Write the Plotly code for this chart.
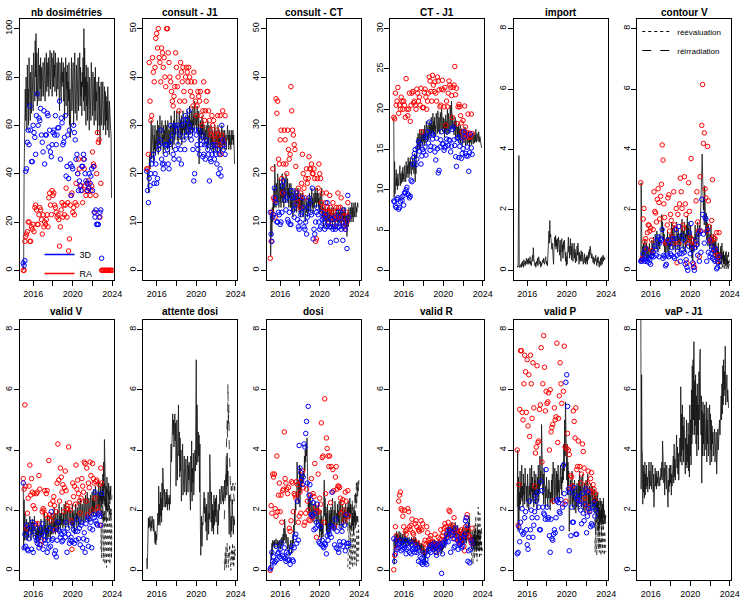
import pandas as pd
import plotly.graph_objects as go

FONT = "Liberation Sans, Arial, sans-serif"
TITLES = ["nb dosimétries", "consult - J1", "consult - CT", "CT - J1", "import", "contour V",
          "valid V", "attente dosi", "dosi", "valid R", "valid P", "vaP - J1"]
X_TICKS = ["2016-01-01", "2018-01-01", "2020-01-01", "2022-01-01", "2024-01-01"]
X_TICKTEXT = ["2016", "", "2020", "", "2024"]

# ---------------- nb dosimetries ----------------
NB_LINE = [0, 2, 40, 55, 70, 75, 62, 80, 72, 58, 85, 68, 75, 60, 88, 70, 78, 62, 82, 70, 65, 85, 72, 78,
           66, 90, 75, 85, 70, 95, 80, 98, 72, 90, 68, 88, 76, 92, 70, 85, 80, 75, 88, 70, 84, 72, 80, 76,
           86, 72, 82, 75, 88, 70, 84, 78, 90, 74, 86, 80, 76, 88, 72, 84, 80, 91, 75, 86, 78, 90, 72, 82,
           88, 76, 91, 80, 85, 74, 90, 78, 84, 72, 86, 80, 75, 88, 70, 82, 66, 86, 74, 80, 70, 88, 76, 82,
           78, 86, 70, 84, 62, 80, 72, 88, 68, 82, 75, 85, 64, 78, 70, 86, 60, 75, 55, 72, 80, 88, 66, 82,
           74, 86, 60, 80, 70, 90, 65, 78, 72, 85, 62, 76, 70, 88, 66, 80, 74, 90, 68, 84, 72, 78, 64, 82,
           76, 88, 70, 100, 66, 92, 72, 80, 60, 85, 68, 78, 62, 84, 70, 76, 58, 80, 66, 74, 62, 86, 70, 78,
           64, 82, 70, 76, 60, 80, 66, 84, 62, 74, 70, 78, 56, 72, 64, 80, 60, 76, 52, 72, 66, 78, 60, 74,
           64, 78, 58, 72, 66, 76, 60, 74, 56, 72, 62, 70, 58, 76, 60, 72, 55, 70, 62, 66, 58, 56, 30]
NB_BLUE = [3, 2, 4, 41, 42, 53, 58, 52, 68, 58, 45, 45,
           60, 57, 55, 48, 64, 73, 60, 63, 62, 67, 56, 53,
           49, 66, 44, 56, 56, 65, 64, 51, 58, 49, 47, 52,
           57, 58, 56, 64, 52, 56, 59, 59, 70, 46, 63, 61,
           52, 53, 55, 64, 39, 43, 56, 38, 58, 44, 31, 43,
           42, 60, 57, 54, 46, 48, 40, 33, 37, 35, 33, 43,
           43, 48, 46, 40, 37, 36, 33, 34, 40, 36, 39, 42,
           33, 43, 24, 22, 25, 19, 19, 19, 22, 24, 25, 5]
NB_RED = [0, 0, 12, 14, 15, 16, 20, 20, 12, 12, 18, 17,
          19, 16, 26, 27, 25, 19, 19, 23, 26, 25, 21, 15,
          23, 18, 20, 19, 21, 23, 18, 30, 32, 27, 23, 33,
          31, 32, 27, 26, 24, 22, 23, 21, 10, 18, 25, 28,
          22, 27, 23, 27, 34, 22, 28, 8, 13, 27, 31, 32,
          24, 26, 23, 28, 36, 27, 40, 46, 42, 35, 35, 33,
          28, 46, 42, 35, 31, 33, 36, 37, 34, 31, 33, 35,
          49, 44, 43, 24, 31, 40, 57, 53, 54, 22, 36, 0,
          0, 0, 0, 0, 0, 0, 0, 0, 0, 0, 0, 0, 0]

# ---------------- consult - J1 ----------------
CJ1_LINE = [20.5, 21, 19, 20, 17, 16, 22, 24, 21, 29, 25, 31, 23, 27, 24, 30, 26, 22, 28, 25, 30, 24, 27, 26,
            29, 25, 31, 27, 24, 30, 28, 26, 32, 27, 25, 29, 27, 31, 26, 28, 24, 30, 27, 29, 25, 31, 28, 26,
            30, 27, 25, 31, 28, 26, 29, 24, 28, 30, 26, 32, 27, 29, 25, 30, 28, 31, 26, 33, 27, 30, 28, 32,
            29, 33, 27, 30, 26, 31, 28, 33, 29, 27, 31, 28, 32, 26, 30, 28, 33, 29, 31, 27, 30, 28, 32, 29,
            31, 28, 33, 29, 30, 27, 32, 29, 34, 28, 31, 30, 33, 29, 31, 28, 34, 30, 32, 29, 35, 31, 33, 30,
            32, 29, 34, 30, 31, 28, 33, 22, 29, 27, 31, 28, 30, 27, 32, 28, 31, 29, 27, 30, 28, 26, 29, 27,
            30, 27, 29, 25, 31, 28, 26, 30, 27, 29, 25, 28, 30, 26, 28, 25, 29, 27, 24, 28, 26, 30, 25, 27,
            29, 26, 28, 24, 27, 30, 26, 28, 25, 29, 27, 24, 28, 26, 30, 25, 27, 29, 26, 28, 25, 29, 27, 26,
            28, 25, 29, 26, 30, 27, 28, 25, 29, 26, 28, 27, 25, 29, 26, 28, 27, 29, 26, 28, 25, 22]
CJ1_RED = [21, 21, 24, 43, 35, 31, 32, 44, 41, 39, 42, 48,
           49, 46, 50, 44, 43, 39, 46, 45, 42, 44, 40, 38,
           50, 50, 45, 43, 40, 39, 37, 35, 34, 36, 38, 45,
           42, 38, 40, 33, 35, 43, 41, 39, 42, 37, 35, 40,
           42, 41, 39, 42, 40, 37, 39, 36, 34, 41, 39, 35,
           32, 34, 37, 36, 35, 37, 32, 30, 33, 39, 31, 33,
           35, 37, 37, 33, 31, 29, 28, 32, 30, 31, 28, 27,
           26, 29, 32, 28, 26, 32, 24, 28, 33, 27, 26, 32]
CJ1_BLUE = [20.5, 16.5, 14, 19, 17.5, 20, 22, 23, 24, 18, 20, 22,
            18, 19, 25, 26, 27, 29, 23, 22, 21, 22, 26, 24,
            26, 25, 22, 21, 26, 30, 27, 28, 24, 23, 30, 25,
            29, 30, 26, 23, 28, 25, 22, 30, 31, 27, 25, 32,
            28, 31, 29, 33, 30, 28, 27, 29, 25, 18.5, 20, 29,
            28, 26, 25, 29, 24, 27, 26, 28, 23.5, 24, 26, 23,
            27, 26, 25, 24, 18.5, 23, 22.5, 24, 26, 25, 23, 26,
            24, 22, 25, 20, 24, 21, 19.5, 30, 27, 25, 26, 24]

# ---------------- consult - CT ----------------
CCT_LINE = [12, 3, 8, 12, 7, 13, 10, 14, 12, 17, 13, 22, 15, 19, 13, 18, 16, 14, 20, 15, 17, 13, 19, 16,
            14, 18, 13, 17, 15, 20, 14, 18, 16, 13, 19, 15, 17, 14, 20, 16, 18, 15, 19, 14, 17, 13, 18, 15,
            16, 13, 18, 15, 12, 17, 14, 11, 16, 13, 15, 12, 17, 14, 13, 16, 12, 15, 14, 17, 13, 16, 12, 15,
            14, 11, 16, 13, 15, 12, 14, 16, 11, 13, 15, 12, 14, 10, 13, 15, 12, 14, 11, 13, 15, 12, 14, 16,
            13, 15, 12, 16, 14, 17, 13, 15, 12, 14, 16, 13, 15, 17, 14, 16, 13, 15, 17, 14, 16, 13, 15, 12,
            14, 16, 12, 15, 13, 17, 11, 14, 12, 9, 13, 11, 12, 10, 13, 11, 9, 12, 10, 13, 11, 12, 10, 13,
            11, 9, 12, 10, 13, 11, 12, 9, 11, 13, 10, 12, 11, 9, 12, 10, 13, 11, 10, 12, 9, 11, 13, 10,
            12, 10, 11, 13, 9, 12, 10, 11, 13, 10, 12, 9, 11, 13, 10, 12, 9, 11, 7, 10, 12, 9, 11, 13,
            10, 12, 11, 13, 10, 12, 14, 11, 13, 10, 12, 14, 11, 13, 12, 14, 11, 13, 12, 13, 14, 13]
CCT_RED = [2.5, 6, 12, 21, 15, 14.5, 11, 35.5, 32.5, 35, 23, 22,
           27, 29, 19, 16, 22, 29, 27, 22, 20, 29, 25, 23,
           24, 38, 33, 29, 28, 26, 25, 21.5, 16, 14, 17, 15,
           13, 16, 18, 24, 20, 17, 15, 19, 21, 18, 19, 23.5,
           21, 21, 22, 20, 20, 21, 19, 6, 6.5, 19, 17, 22,
           20, 19, 14, 16, 13, 12, 11, 14, 16, 13, 12, 10,
           15.5, 13, 12, 11, 14, 12, 10.5, 9, 13, 11, 16, 13,
           11, 13, 15, 12, 10, 9, 11, 8.5, 12, 10, 14, 11]
CCT_BLUE = [12, 7.5, 6, 11, 11.5, 17, 15, 14, 10, 10, 12, 11.5,
            9.5, 10, 12, 17.5, 18.5, 16, 14.5, 12.5, 15, 10.5, 10, 12,
            9.5, 9.5, 16.5, 15, 12.5, 11, 13.5, 15, 16, 10.5, 9, 8.5,
            10, 11.5, 12, 15, 13, 9, 8.5, 10, 7.5, 11, 13, 15,
            14, 12, 11.5, 17, 6.5, 8.5, 7.5, 10, 12, 13, 11.5, 10,
            8.5, 9, 12, 10.5, 11, 10, 8.5, 11.5, 9, 14, 10, 11,
            9, 5.8, 9, 10.5, 8.5, 9, 11, 8.5, 6.2, 10, 9, 12,
            9, 11, 8.5, 10, 6.2, 12.5, 9, 8.5, 10, 4.5, 15.5, 11]

# ---------------- CT - J1 ----------------
CTJ1_LINE = [19, 9, 13.5, 9.5, 11, 10, 12.5, 10.5, 11.5, 10, 12, 11, 10.5, 12.5, 11, 13, 10.5, 12, 11.5, 10.8, 12.3, 11, 12.8, 11.3,
             12, 11, 13, 11.5, 12.5, 11, 13.5, 12, 11.5, 13, 12, 14, 12.5, 11.5, 13.5, 12, 14, 12.5, 13, 11.8, 13.5, 12.5, 14, 12.8,
             13.5, 12, 14.5, 12.8, 11, 13.5, 12, 15, 14, 16.5, 15, 17, 15.5, 16.5, 15, 17.5, 16, 15, 17, 15.8, 17.5, 16.2, 15.5, 17,
             16, 17.5, 15.5, 18, 16.5, 17, 15.8, 18.5, 16.5, 17.8, 16, 18, 17, 16.2, 18.5, 17, 16.5, 18.2, 17, 19, 16.8, 18, 17.3, 19.5,
             17, 18.5, 16.5, 19, 17.5, 18, 16.8, 19.5, 17.6, 18.4, 17, 19.8, 18, 17.2, 19, 18.2, 16.9, 19.6, 18, 17.5, 20, 17.8, 18.6, 17.2,
             19, 17.6, 18.8, 16.5, 18.2, 17, 19.3, 17.5, 18.5, 16.8, 20, 18, 17, 19.5, 17.8, 19, 17, 20.5, 18, 17.5, 21, 18.2, 17.6, 19.2,
             17.2, 18.8, 16.8, 18.5, 17.5, 19, 16.5, 18.6, 17.2, 18, 16.4, 17.8, 16.8, 18.2, 15.8, 17.5, 16.5, 18, 15.8, 17.2, 16.3, 17.6, 15.5, 17,
             16.2, 17.5, 15.8, 17, 16, 17.8, 15.5, 16.8, 16.2, 17.4, 15.6, 16.9, 16, 17.2, 15.8, 16.6, 15.3, 16.8, 15.9, 17, 16.1, 15.6, 16.9, 16,
             16.5, 15.7, 17.1, 16.2, 15.8, 16.8, 16, 17.5, 16.3, 15.9, 17, 16.4, 16.8, 16, 17.2, 16.5, 15.9, 16.6, 16.2, 15.8, 15.5, 15.2]
CTJ1_RED = [19, 18.8, 22, 20.5, 21, 22.7, 19.5, 20.5, 20, 21.5, 21, 20,
            21, 20.5, 19, 23.8, 20, 19.2, 20, 22, 18.5, 20.5, 22, 22.2,
            20.8, 21, 20.5, 20, 22.5, 22, 21, 21.5, 20.5, 22.6, 17.2, 20.2,
            20.2, 22.1, 22.5, 21.5, 20, 21, 22, 24, 23.5, 22.2, 21, 24.2,
            23, 22.2, 23.4, 22, 21, 24, 23.5, 22.4, 20.3, 20.5, 22.5, 23.6,
            22.4, 20.3, 22.7, 18, 21, 20.3, 22, 23.5, 23, 22.7, 21.7, 19,
            22.7, 23, 25.3, 21.8, 22.6, 18.2, 20.3, 20.6, 20.3, 19.2, 18.3, 17.2,
            18.6, 16.5, 20.4, 17.8, 16.8, 17.1, 19.4, 16.5, 17, 16.6, 19.4, 17]
CTJ1_BLUE = [8.6, 8.5, 8, 7.8, 8.8, 9, 7.6, 7.8, 8.5, 9, 8.7, 9.2,
             8.1, 9.6, 9.7, 10, 10.3, 9.5, 9.3, 9, 9.2, 11.2, 11, 13.2,
             14, 14.5, 15, 13.1, 13.8, 15.2, 16, 14.8, 15.7, 13.2, 14.2, 15,
             14.7, 16.6, 15.3, 14.3, 16.5, 17.2, 15.8, 18.4, 14.9, 15.4, 17, 16.3,
             16.8, 15.3, 14.7, 13.7, 16.4, 15.1, 12.1, 12.4, 15.3, 16.2, 17.2, 15.7,
             15.7, 14.9, 15.2, 15.4, 16.3, 17.2, 15.5, 16.2, 16.1, 14.7, 15.4, 17.5,
             17.8, 16.2, 15.5, 14.1, 12.9, 16.4, 16.5, 14, 15.4, 16, 13.9, 14.5,
             15.1, 17.2, 16.6, 14.5, 14.2, 15.3, 14.2, 12.3, 14.6, 16.9, 15.2, 14.4]

# ---------------- import ----------------
IMP_LINE = [0.15, 0.1, 0.12, 2.0, 3.8, 0.1, 0.15, 0.1, 0.12, 0.2, 0.1, 0.25, 0.15, 0.3, 0.2, 0.1, 0.35, 0.2, 0.25, 0.15, 0.3, 0.2, 0.4, 0.25,
            0.2, 0.35, 0.25, 0.4, 0.2, 0.3, 0.25, 0.45, 0.2, 0.3, 0.15, 0.35, 0.25, 0.5, 0.3, 0.75, 0.4, 0.2, 0.3, 0.15, 0.25, 0.1, 0.2, 0.3,
            0.2, 0.4, 0.15, 0.3, 0.45, 0.25, 0.35, 0.2, 0.3, 0.1, 0.25, 0.15, 0.3, 0.2, 0.35, 0.25, 0.4, 0.3, 0.2, 0.35, 0.25, 0.45, 0.3, 0.2,
            0.3, 0.15, 0.4, 0.6, 1.0, 1.3, 0.9, 1.65, 1.1, 1.2, 0.8, 1.0, 0.7, 0.9, 0.5, 0.6, 0.2, 0.7, 0.9, 1.1, 0.8, 1.15, 0.7, 1.0,
            0.8, 1.05, 0.6, 0.9, 1.1, 0.7, 0.95, 0.5, 1.0, 0.75, 0.3, 0.9, 1.05, 0.6, 0.85, 0.4, 0.95, 0.7, 1.0, 0.55, 0.8, 0.3, 0.6, 0.15,
            0.45, 0.2, 0.7, 0.5, 1.1, 0.6, 0.8, 0.4, 0.9, 1.05, 0.5, 0.8, 0.35, 0.9, 0.6, 0.3, 0.75, 0.5, 0.9, 0.4, 0.7, 0.25, 0.6, 0.45,
            0.3, 0.8, 0.5, 0.9, 0.4, 0.7, 0.2, 0.6, 0.35, 0.5, 0.3, 0.65, 0.45, 0.3, 0.6, 0.4, 0.2, 0.5, 0.3, 0.55, 0.25, 0.4, 0.2, 0.45,
            0.3, 0.5, 0.2, 0.45, 0.35, 0.6, 0.4, 0.7, 0.5, 0.8, 0.45, 0.65, 0.4, 0.55, 0.3, 0.5, 0.25, 0.45, 0.35, 0.2, 0.4, 0.3, 0.5, 0.25,
            0.35, 0.15, 0.4, 0.25, 0.45, 0.2, 0.35, 0.1, 0.3, 0.2, 0.4, 0.15, 0.3, 0.45, 0.2, 0.35, 0.5, 0.3, 0.45, 0.35, 0.4, 0.38]

# ---------------- contour V ----------------
CV_LINE = [0.3, 2.9, 1.6, 0.4, 0.3, 0.8, 0.5, 0.9, 0.4, 0.6, 1.0, 0.5, 0.7, 0.4, 0.9, 0.6, 0.3, 0.8, 0.5, 0.7, 0.4, 0.9, 0.6, 0.5,
           0.4, 0.7, 0.5, 1.0, 0.6, 0.8, 0.5, 1.1, 0.7, 0.9, 0.6, 1.2, 0.8, 1.0, 0.7, 1.3, 0.9, 1.1, 0.6, 1.0, 0.8, 1.2, 0.7, 1.0,
           0.9, 1.4, 1.1, 1.85, 1.3, 1.6, 1.0, 1.4, 0.8, 1.2, 0.6, 1.0, 0.5, 0.9, 0.7, 1.1, 0.6, 1.3, 0.8, 1.1, 0.5, 0.9, 0.7, 1.2,
           0.8, 1.3, 1.0, 1.6, 0.9, 1.4, 0.7, 1.2, 1.0, 1.5, 0.8, 1.1, 0.6, 1.3, 0.9, 1.6, 1.0, 1.2, 0.7, 1.4, 0.9, 1.1, 0.6, 1.0,
           1.2, 0.8, 1.5, 1.0, 1.7, 1.1, 1.4, 0.7, 1.3, 0.9, 1.6, 1.0, 0.6, 1.2, 0.8, 1.5, 1.1, 1.8, 0.9, 1.4, 1.0, 1.6, 0.7, 1.2,
           1.0, 1.5, 0.6, 1.2, 0.4, 0.9, 0.3, 0.8, 1.1, 0.6, 1.3, 0.8, 1.5, 1.0, 1.2, 0.7, 1.4, 0.9, 1.6, 1.1, 1.3, 0.8, 1.5, 1.2,
           1.4, 2.2, 1.6, 2.8, 3.3, 3.85, 2.6, 3.0, 2.0, 2.4, 1.5, 2.8, 1.8, 2.2, 1.2, 1.9, 1.0, 1.6, 1.3, 0.8, 1.5, 1.0, 1.3, 0.7,
           1.2, 0.8, 1.5, 0.9, 1.3, 0.6, 1.1, 0.8, 1.2, 0.5, 1.0, 0.7, 0.9, 0.4, 1.1, 0.6, 0.8, 0.3, 0.7, 0.5, 0.9, 0.4, 0.6, 0.3,
           0.7, 0.4, 0.8, 0.3, 0.6, 0.9, 0.4, 0.5, 0.2, 0.6, 0.3, 0.5, 0.2, 0.4, 0.6, 0.3, 0.4, 0.15, 0.35, 0.2, 0.3, 0.2]
CV_RED = [2.9, 0.35, 0.4, 1.7, 2.05, 0.95, 1.05, 0.7, 1.25, 1.5, 1.5, 1.3,
          1.4, 1.0, 0.65, 1.35, 2.6, 1.95, 1.9, 1.6, 2.35, 2.7, 2.25, 1.7,
          2.45, 2.85, 4.15, 3.65, 2.2, 1.75, 0.9, 0.95, 1.5, 2.4, 2.5, 1.3,
          1.85, 1.65, 1.1, 0.9, 2.6, 1.5, 1.4, 2.05, 0.25, 1.85, 0.9, 2.2,
          3.05, 2.6, 2.05, 1.5, 1.4, 3.1, 2.2, 1.85, 0.25, 0.9, 2.9, 1.95,
          1.1, 3.7, 1.0, 0.8, 0.2, 0.1, 0.9, 2.3, 2.6, 1.6, 1.3, 0.45,
          3.1, 1.3, 4.8, 6.15, 4.2, 4.55, 2.7, 2.4, 1.3, 4.1, 2.3, 1.45,
          1.0, 0.95, 1.65, 3.0, 1.1, 0.7, 1.05, 0.5, 1.25, 0.3, 0.5, 1.25]
CV_BLUE = [0.3, 0.3, 0.35, 0.55, 0.35, 0.3, 0.7, 0.45, 0.3, 0.4, 0.25, 0.35,
           0.2, 0.45, 0.5, 0.6, 0.45, 0.8, 0.7, 0.5, 1.0, 1.1, 0.45, 0.9,
           1.05, 1.0, 1.35, 0.4, 0.5, 0.45, 0.15, 0.2, 0.5, 1.0, 0.45, 0.9,
           0.55, 0.5, 0.75, 1.05, 0.45, 0.4, 1.05, 1.35, 0.5, 0.75, 1.45, 0.55,
           0.3, 1.15, 0.55, 0.7, 1.0, 0.6, 0.2, 0.35, 0.1, 0.0, 0.8, 1.25,
           0.55, 1.55, 0.7, 0.25, 0.1, 0.0, 0.75, 1.0, 0.85, 0.5, 1.2, 0.3,
           1.3, 0.6, 2.35, 1.85, 1.2, 0.9, 1.75, 1.7, 0.3, 1.35, 0.6, 1.0,
           0.45, 0.55, 0.8, 0.4, 0.65, 0.35, 0.3, 0.7, 0.05, 0.1, 0.25, 0.45]
CV_DOT = [0.1, 0.3, 0.05, 0.25, 0.1, 0.35, 0.15, 0.05, 0.3, 0.1, 0.2, 0.05, 0.4, 0.15, 0.1, 0.3, 0.05, 0.2, 0.1, 0.35,
          0.15, 0.05, 0.25, 0.1, 0.3, 0.05, 0.2, 0.1]
CV_DASH = [0.3, 0.6, 0.2, 0.5, 0.35, 0.7, 0.25, 0.45, 0.15, 0.6, 0.3, 0.5, 0.2, 0.65, 0.35, 0.4, 0.2, 0.55, 0.3, 0.7,
           0.25, 0.45, 0.15, 0.5, 0.3, 0.6, 0.2, 0.35]

# ---------------- valid V ----------------
VV_LINE = [2.9, 0.7, 2.35, 1.0, 1.9, 1.2, 1.5, 1.0, 1.7, 1.2, 1.4, 1.0, 1.6, 1.1, 1.5, 1.3, 1.8, 1.2, 1.4, 1.0, 1.6, 1.2, 1.7, 1.3,
           1.1, 1.6, 1.3, 1.8, 1.2, 1.5, 1.0, 1.4, 0.9, 1.3, 1.1, 1.6, 1.0, 1.4, 0.9, 1.5, 1.2, 1.3, 1.0, 1.7, 1.1, 1.5, 1.2, 1.4,
           1.0, 1.6, 1.2, 2.0, 1.3, 1.5, 1.0, 1.7, 1.1, 1.4, 1.0, 1.9, 1.2, 1.5, 1.1, 1.8, 1.3, 1.4, 1.0, 1.6, 1.2, 1.9, 1.4, 1.5,
           1.2, 1.8, 1.4, 2.1, 1.3, 1.6, 1.2, 1.9, 1.5, 1.7, 1.3, 2.0, 1.4, 1.6, 1.3, 2.2, 1.5, 1.8, 1.4, 1.9, 1.5, 2.1, 1.6, 1.7,
           1.4, 1.9, 1.5, 2.2, 1.6, 1.8, 1.4, 2.3, 1.7, 1.9, 1.5, 2.0, 1.6, 1.8, 1.4, 2.1, 1.6, 1.9, 1.5, 2.0, 1.7, 1.8, 1.4, 2.2,
           1.5, 1.9, 1.4, 2.0, 1.2, 1.8, 1.5, 2.2, 1.6, 1.9, 1.4, 2.1, 1.7, 1.8, 1.5, 2.3, 1.6, 2.0, 1.5, 2.4, 1.8, 1.9, 1.6, 2.2,
           1.7, 2.1, 1.5, 2.4, 1.8, 2.0, 1.6, 2.5, 1.9, 2.1, 1.7, 2.6, 1.8, 2.2, 1.6, 2.4, 1.9, 2.3, 1.7, 2.5, 2.0, 2.2, 1.8, 2.6,
           1.9, 2.4, 1.8, 2.7, 2.0, 2.3, 1.9, 2.8, 2.1, 2.5, 1.8, 2.6, 2.2, 2.4, 1.9, 3.0, 2.1, 2.6, 2.0, 2.8, 2.3, 2.5, 2.1, 2.9,
           2.2, 3.2, 2.4, 3.6, 2.3, 4.35, 2.6, 3.0, 2.2, 2.8, 2.0, 3.1, 2.4, 2.7, 2.1, 2.9, 2.3, 2.6, 2.2, 2.8, 2.5, 2.8]
VV_RED = [3.05, 2.7, 5.5, 2.8, 1.4, 1.9, 2.4, 2.8, 3.5, 2.5, 3.05, 2.6,
          2.15, 2.55, 2.05, 1.55, 2.55, 2.6, 1.55, 3.15, 2.7, 0.85, 1.0, 1.95,
          2.05, 2.0, 2.65, 1.85, 2.55, 2.65, 1.75, 3.65, 1.85, 2.2, 1.65, 1.8,
          2.3, 2.45, 2.15, 1.35, 1.95, 2.9, 4.2, 3.0, 2.3, 3.4, 3.1, 2.6,
          2.85, 1.95, 2.75, 3.3, 2.65, 2.15, 2.05, 4.1, 2.25, 2.0, 1.65, 0.7,
          2.9, 2.45, 2.8, 2.2, 3.5, 2.7, 3.0, 2.55, 2.3, 1.9, 2.4, 3.05,
          2.8, 2.6, 3.6, 3.55, 2.3, 3.4, 1.85, 2.9, 2.75, 3.6, 3.15, 2.0,
          3.55, 3.05, 2.9, 2.4, 2.95, 3.0, 2.1, 1.95, 2.85, 1.5, 3.4, 2.9]
VV_BLUE = [2.9, 0.75, 1.2, 0.8, 1.5, 0.7, 0.65, 1.05, 1.25, 1.4, 0.7, 1.6,
           0.6, 1.3, 1.5, 1.1, 1.0, 0.9, 1.05, 0.75, 0.85, 1.4, 1.2, 1.55,
           0.7, 1.15, 1.0, 0.9, 1.3, 0.6, 1.0, 0.75, 1.4, 0.8, 1.95, 1.0,
           1.05, 1.35, 0.55, 0.65, 0.45, 1.0, 1.6, 1.35, 1.3, 1.1, 1.2, 0.95,
           1.0, 1.3, 1.25, 1.1, 1.6, 0.6, 1.4, 1.2, 0.9, 1.0, 1.1, 0.95,
           1.55, 1.35, 0.9, 1.3, 1.0, 1.7, 1.3, 1.05, 1.4, 0.85, 1.5, 1.6,
           0.75, 1.05, 1.25, 0.6, 1.55, 1.0, 1.75, 0.8, 1.7, 1.4, 1.6, 0.75,
           1.35, 1.85, 1.75, 2.6, 1.65, 1.55, 1.5, 1.85, 1.9, 1.8, 1.5, 2.55]
VV_DOT = [0.7, 1.5, 0.4, 1.9, 0.9, 2.3, 0.3, 1.2, 0.6, 2.0, 0.2, 1.4, 0.8, 2.4, 0.1, 1.1, 0.5, 1.8, 0.3, 1.6,
          0.7, 2.2, 0.2, 1.3, 0.6, 1.9, 0.4, 1.5]
VV_DASH = [2.0, 2.6, 1.6, 2.4, 1.8, 2.8, 1.5, 2.2, 2.0, 2.9, 1.7, 2.5, 1.9, 2.3, 1.6, 2.7, 1.8, 2.1, 2.0, 2.6,
           1.7, 2.4, 1.9, 2.8, 1.6, 2.3, 2.1, 2.5]

# ---------------- attente dosi ----------------
AD_LINE = [0.4, 0.05, 0.6, 1.2, 1.75, 1.4, 1.7, 1.45, 1.8, 1.5, 1.3, 1.65, 1.4, 1.8, 1.5, 1.6, 1.3, 1.7, 1.4, 1.2, 0.9, 1.3, 0.85, 1.2,
           1.0, 1.4, 1.2, 1.9, 1.5, 2.8, 1.6, 2.2, 1.5, 2.6, 1.8, 2.4, 1.6, 2.9, 2.0, 3.4, 2.4, 2.8, 2.1, 2.7, 2.3, 2.5, 2.1, 2.6,
           2.2, 2.7, 2.0, 2.5, 2.3, 2.2, 2.4, 2.0, 2.5, 2.2, 3.5, 4.2, 3.6, 4.8, 4.0, 5.2, 4.5, 5.0, 4.1, 4.8, 5.2, 4.3, 4.9, 2.8,
           4.5, 5.0, 3.0, 4.2, 3.4, 5.5, 3.8, 4.6, 3.1, 4.4, 3.3, 4.0, 2.3, 3.6, 2.8, 4.2, 2.5, 3.5, 2.9, 3.8, 2.6, 3.4, 3.0, 3.7,
           2.5, 3.3, 2.8, 3.8, 2.6, 3.5, 3.0, 3.6, 2.4, 3.2, 2.0, 3.8, 2.6, 4.3, 2.3, 3.4, 2.9, 3.9, 2.5, 3.6, 3.1, 4.0, 3.3, 4.2,
           7.0, 3.5, 5.5, 4.2, 3.6, 4.6, 3.8, 4.5, 2.6, 4.2, 1.5, 0.5, 1.2, 1.8, 0.8, 1.6, 1.5, 2.2, 1.7, 2.6, 1.9, 2.4, 1.6, 2.1,
           1.3, 2.2, 1.0, 2.0, 1.5, 2.6, 1.2, 1.9, 1.7, 3.85, 2.0, 3.0, 1.6, 2.6, 1.3, 2.2, 1.4, 2.0, 1.2, 2.5, 1.5, 2.3, 1.8, 2.4,
           1.6, 2.5, 1.4, 2.1, 1.2, 2.0, 1.5, 2.2, 2.0, 2.7, 2.3, 2.6, 2.2, 2.8, 2.4, 2.6, 2.3, 2.8, 2.2, 2.5, 2.6, 3.0, 2.4, 3.2,
           2.6, 3.5, 2.5, 3.9, 2.8, 3.3, 2.4, 1.8, 1.2, 2.5, 1.6, 2.0, 1.1, 1.8, 1.3, 2.3, 1.4, 1.9, 1.2, 1.8, 1.5, 1.7]
AD_DOT = [0.3, 0.0, 0.6, 0.2, 0.8, 0.1, 0.5, 0.9, 0.3, 0.7, 0.1, 0.6, 0.4, 0.85, 0.2, 0.5, 0.0, 0.4, 0.7, 0.3,
          0.9, 0.2, 0.6, 0.1, 0.8, 0.35, 0.7, 0.5]
AD_DASH = [1.7, 2.1, 1.8, 2.6, 3.2, 4.0, 4.6, 5.0, 4.4, 6.2, 4.8, 5.5, 4.2, 3.6, 3.2, 2.6, 2.3, 2.8, 2.4, 2.6,
           2.2, 2.9, 2.5, 2.7, 2.3, 2.8, 2.6, 2.9]

# ---------------- dosi ----------------
DO_LINE = [0.05, 0.3, 0.6, 0.35, 0.9, 0.5, 1.0, 0.8, 0.95, 0.85, 1.0, 0.75, 0.95, 0.8, 1.05, 0.85, 0.9, 0.75, 1.0, 0.8, 0.95, 0.7, 1.0, 0.85,
           0.9, 0.7, 1.05, 0.8, 1.1, 0.85, 0.95, 1.2, 0.9, 1.4, 1.0, 1.7, 1.1, 1.3, 0.9, 1.2, 0.8, 1.0, 0.7, 1.1, 0.6, 0.9, 0.5, 0.8,
           0.7, 1.0, 0.6, 0.9, 0.55, 1.0, 0.7, 1.2, 0.9, 1.5, 1.2, 2.0, 1.5, 2.3, 2.0, 2.6, 2.4, 3.6, 2.6, 3.3, 2.2, 3.0, 2.5, 3.5,
           2.1, 3.4, 2.6, 3.0, 2.8, 3.2, 2.9, 3.1, 3.0, 3.3, 3.1, 3.8, 3.3, 4.0, 3.6, 4.2, 3.8, 4.4, 3.2, 2.5, 2.0, 2.3, 1.8, 2.4,
           1.8, 2.5, 1.9, 2.2, 1.7, 2.3, 1.9, 2.1, 1.6, 2.2, 1.8, 2.0, 1.7, 2.3, 1.9, 2.2, 1.5, 2.1, 1.8, 2.0, 1.6, 2.2, 1.4, 1.9,
           1.1, 1.7, 1.3, 2.0, 1.0, 1.8, 1.2, 1.6, 1.1, 1.5, 2.0, 3.0, 1.8, 2.4, 1.5, 2.1, 1.3, 1.9, 1.2, 2.2, 1.1, 1.8, 1.4, 2.0,
           1.2, 1.9, 1.3, 2.1, 1.5, 2.0, 1.4, 2.4, 1.6, 2.2, 1.3, 2.0, 1.5, 2.3, 1.6, 2.1, 1.4, 1.9, 1.7, 2.2, 1.5, 2.0, 1.6, 2.3,
           1.5, 2.1, 1.7, 2.3, 1.4, 2.0, 1.8, 2.2, 1.6, 1.9, 1.5, 2.1, 1.7, 2.0, 1.6, 2.2, 1.8, 1.9, 1.5, 2.1, 1.7, 2.3, 1.8, 2.0,
           1.7, 2.4, 1.9, 2.2, 1.6, 2.0, 1.3, 1.9, 1.5, 2.1, 1.2, 1.8, 1.6, 2.0, 1.4, 1.9, 1.5, 1.8, 1.7, 1.6, 1.8, 1.6]
DO_RED = [0.0, 2.15, 1.9, 3.2, 3.1, 3.2, 2.05, 1.8, 3.8, 1.95, 2.5, 2.9,
          1.95, 2.5, 1.6, 2.65, 2.7, 4.6, 3.05, 2.9, 2.7, 2.55, 2.75, 1.4,
          1.3, 1.65, 2.95, 2.9, 1.95, 2.55, 2.5, 2.4, 2.95, 2.85, 1.6, 1.8,
          2.6, 1.9, 2.95, 3.3, 2.75, 1.5, 1.6, 1.9, 2.7, 2.3, 2.0, 1.7,
          1.65, 2.5, 3.05, 1.75, 2.55, 2.45, 3.55, 2.1, 1.1, 1.95, 3.2, 1.95,
          2.4, 2.2, 4.9, 3.75, 3.8, 1.6, 5.7, 2.55, 4.4, 4.05, 3.8, 3.45,
          3.8, 2.25, 3.45, 2.6, 3.35, 2.65, 1.45, 3.1, 3.45, 2.7, 2.8, 2.8,
          2.75, 2.4, 1.9, 2.25, 2.35, 2.0, 1.65, 2.6, 2.3, 1.85, 2.65, 1.8]
DO_BLUE = [0.05, 0.1, 0.6, 0.3, 0.45, 0.25, 0.3, 0.8, 0.35, 0.55, 0.6, 0.45,
           0.7, 0.4, 0.9, 0.5, 0.45, 0.75, 0.4, 0.3, 0.6, 0.35, 0.55, 0.35,
           0.2, 0.65, 0.8, 0.35, 0.3, 0.75, 1.1, 1.2, 0.9, 2.3, 1.0, 4.15,
           3.4, 3.25, 3.0, 2.85, 3.1, 4.2, 4.1, 4.55, 4.95, 2.9, 5.45, 2.5,
           2.85, 2.35, 1.85, 1.8, 2.25, 1.35, 1.9, 1.4, 1.6, 2.2, 1.5, 0.95,
           0.9, 1.45, 0.85, 1.0, 0.8, 0.75, 0.9, 0.85, 0.55, 1.15, 1.0, 1.3,
           1.2, 1.5, 1.1, 2.6, 1.45, 1.4, 0.85, 1.7, 0.75, 1.3, 0.7, 0.6,
           0.95, 0.85, 1.45, 1.3, 0.8, 0.95, 1.5, 0.65, 1.85, 0.9, 0.8, 0.9]
DO_DOT = [0.1, 0.9, 0.3, 1.3, 0.5, 0.05, 0.7, 1.5, 0.2, 1.0, 0.4, 1.2, 0.1, 0.8, 0.3, 1.4, 0.6, 0.2, 1.1, 0.4,
          0.9, 0.15, 1.3, 0.5, 1.0, 0.3, 1.5, 0.7]
DO_DASH = [1.3, 1.8, 1.5, 2.1, 1.2, 1.9, 1.6, 2.3, 1.4, 2.0, 1.7, 2.4, 1.5, 1.9, 1.3, 2.2, 1.6, 2.5, 1.8, 2.7,
           2.0, 2.9, 2.2, 3.0, 2.4, 3.0, 2.6, 3.0]

# ---------------- valid R ----------------
VR_LINE = [1.05, 0.2, 0.8, 1.2, 0.75, 1.1, 0.8, 1.3, 0.9, 1.2, 0.85, 1.1, 0.95, 1.3, 1.0, 1.15, 0.85, 1.25, 0.9, 1.1, 0.8, 1.2, 0.9, 1.05,
           0.85, 1.2, 0.9, 1.3, 0.8, 1.1, 0.95, 1.05, 0.8, 1.1, 0.9, 1.0, 0.85, 1.1, 0.9, 1.05, 0.8, 1.0, 0.95, 1.1, 0.85, 1.0, 0.9, 1.05,
           0.8, 1.1, 0.9, 1.0, 0.85, 1.1, 0.75, 1.0, 0.8, 0.95, 0.7, 0.9, 0.75, 1.0, 0.7, 0.9, 0.65, 0.85, 0.6, 0.9, 0.55, 0.8, 0.6, 0.85,
           0.5, 0.8, 0.4, 0.7, 0.2, 0.6, 0.3, 0.7, 0.5, 0.8, 0.6, 0.9, 0.65, 0.95, 0.7, 0.85, 0.75, 1.0, 0.7, 0.9, 0.65, 0.95, 0.8, 1.0,
           0.7, 0.95, 0.75, 1.0, 0.6, 0.9, 0.7, 0.95, 0.65, 0.85, 0.5, 0.9, 0.7, 1.0, 0.75, 0.95, 0.6, 0.85, 0.7, 1.0, 0.55, 0.8, 0.65, 0.9,
           0.7, 1.0, 0.8, 1.1, 0.75, 1.2, 0.9, 1.1, 1.0, 1.3, 1.1, 1.4, 1.2, 1.5, 1.1, 1.3, 1.2, 1.5, 1.1, 1.4, 1.2, 1.6, 1.3, 1.45,
           1.2, 1.5, 1.1, 1.4, 1.3, 1.6, 1.15, 1.45, 1.0, 1.35, 1.1, 1.5, 0.95, 1.3, 1.05, 1.4, 0.9, 1.25, 1.0, 1.3, 0.85, 1.2, 0.95, 1.4,
           0.9, 1.3, 0.85, 1.2, 0.95, 1.45, 1.0, 1.3, 0.9, 1.5, 1.1, 1.35, 1.0, 1.6, 1.2, 1.8, 1.1, 1.5, 0.9, 1.3, 1.0, 1.2, 0.8, 1.1,
           0.9, 1.2, 0.75, 1.1, 0.85, 1.3, 0.8, 1.2, 0.7, 1.1, 0.9, 1.25, 0.8, 1.15, 0.95, 1.3, 1.0, 1.2, 1.1, 1.3, 1.2, 1.4]
VR_RED = [0.02, 0.5, 1.45, 1.15, 0.75, 1.0, 2.3, 2.5, 2.6, 2.05, 2.0, 1.8,
          1.45, 2.0, 1.3, 1.2, 1.35, 2.05, 1.95, 1.45, 1.35, 1.5, 1.7, 1.25,
          1.2, 1.0, 1.55, 1.65, 1.45, 0.9, 1.35, 1.3, 1.4, 1.65, 1.35, 1.55,
          0.65, 0.9, 1.0, 0.85, 1.45, 1.25, 1.0, 0.9, 1.05, 1.15, 0.95, 0.85,
          0.95, 0.75, 1.2, 0.85, 0.6, 0.9, 1.1, 0.8, 1.05, 1.35, 1.0, 1.15,
          1.25, 1.4, 1.55, 1.45, 1.1, 1.35, 1.6, 2.0, 1.95, 1.45, 1.2, 1.5,
          1.25, 1.75, 1.05, 1.4, 1.3, 1.0, 1.15, 0.95, 1.3, 0.9, 1.35, 1.05,
          1.2, 0.8, 0.65, 1.45, 1.75, 1.85, 1.3, 1.15, 1.1, 1.0, 0.9, 1.4]
VR_BLUE = [1.05, 0.3, 0.55, 1.0, 0.7, 0.85, 0.75, 0.9, 1.0, 0.65, 0.8, 0.7,
           0.85, 0.75, 1.0, 0.55, 0.7, 0.9, 0.75, 0.6, 0.95, 0.55, 0.85, 0.7,
           0.75, 0.6, 0.7, 0.85, 0.6, 0.75, 0.3, 0.65, 0.45, 0.25, 0.4, 0.2,
           0.3, 0.55, 0.25, 0.35, 0.2, 0.5, 0.7, 0.65, 0.8, 0.6, 0.85, 0.75,
           0.7, 0.9, 0.75, 0.6, 0.5, 0.85, 0.7, 0.9, 0.75, 0.8, -0.1, 0.55,
           0.9, 0.85, 1.0, 0.95, 1.2, 1.1, 0.95, 1.35, 1.3, 0.6, 1.15, 1.25,
           1.05, 0.75, 0.8, 1.4, 1.15, 1.0, 0.7, 0.9, 0.85, 1.05, 0.75, 0.8,
           0.95, 1.1, 1.2, 1.65, 1.75, 1.5, 0.3, 0.65, 0.25, 0.7, 1.0, 0.9]
VR_DOT = [0.3, 1.0, 0.5, 1.3, 0.2, 0.9, 0.6, 1.5, 0.4, 1.1, 0.7, 1.8, 0.5, 1.2, 0.3, 1.6, 0.8, 2.1, 0.6, 1.4,
          0.4, 1.9, 0.7, 1.2, 0.5, 1.0, 0.6, 0.8]
VR_DASH = [0.7, 1.1, 0.8, 1.2, 0.6, 1.0, 0.9, 1.3, 0.7, 1.1, 0.8, 1.4, 0.6, 1.2, 0.9, 1.5, 0.7, 1.3, 0.8, 1.1,
           0.6, 1.0, 0.8, 1.2, 0.7, 0.9, 0.8, 1.0]

# ---------------- valid P ----------------
VP_LINE = [2.1, 4.0, 1.3, 3.1, 1.5, 2.6, 2.0, 3.3, 2.2, 2.9, 2.4, 3.5, 2.3, 2.8, 2.1, 3.2, 2.5, 2.9, 2.2, 3.4, 2.6, 3.0, 2.3, 2.8,
           2.1, 3.2, 2.4, 3.0, 2.0, 2.8, 2.5, 3.4, 2.2, 2.9, 2.6, 3.5, 2.3, 3.1, 2.4, 2.8, 2.1, 3.3, 2.5, 3.0, 2.2, 3.2, 2.6, 2.9,
           2.0, 3.1, 2.5, 3.5, 2.3, 2.9, 2.6, 3.8, 2.8, 3.3, 2.9, 4.85, 3.0, 3.6, 2.5, 3.2, 2.2, 3.4, 2.5, 3.0, 2.1, 2.8, 2.4, 3.1,
           2.3, 2.9, 2.1, 2.7, 2.4, 3.0, 2.2, 2.8, 2.0, 2.6, 2.3, 3.0, 2.4, 3.2, 2.2, 3.6, 2.5, 3.1, 2.3, 3.4, 2.6, 3.0, 2.4, 3.3,
           2.5, 3.2, 2.3, 3.5, 2.6, 3.0, 2.4, 3.3, 2.8, 3.5, 2.7, 3.1, 2.5, 3.4, 2.9, 3.6, 3.0, 4.2, 3.3, 5.0, 3.8, 5.6, 3.5, 4.5,
           3.0, 4.2, 2.5, 3.6, 2.8, 3.3, 1.3, 2.6, 2.0, 3.0, 2.2, 2.8, 2.4, 3.3, 2.1, 2.9, 2.3, 2.7, 2.0, 3.0, 2.2, 2.6, 1.9, 2.8,
           2.1, 2.9, 2.3, 2.7, 2.0, 3.0, 2.4, 3.3, 2.2, 2.8, 2.5, 3.1, 2.1, 2.9, 2.3, 3.2, 2.0, 2.7, 2.4, 2.9, 1.9, 2.8, 2.2, 3.0,
           2.0, 2.7, 2.3, 3.2, 2.1, 2.6, 1.9, 2.8, 2.2, 2.5, 2.0, 2.9, 2.3, 2.6, 2.1, 2.8, 2.0, 2.4, 2.2, 2.7, 1.9, 2.5, 2.1, 2.6,
           1.8, 2.4, 2.0, 2.6, 1.7, 2.3, 1.5, 2.1, 1.4, 2.4, 1.6, 2.0, 1.5, 2.3, 1.7, 2.2, 1.6, 2.4, 1.8, 2.0, 1.7, 1.8]
VP_RED = [4.0, 1.5, 2.85, 5.35, 7.3, 7.3, 5.25, 5.0, 6.2, 7.15, 6.6, 5.25,
          7.0, 4.8, 6.5, 4.45, 7.15, 6.2, 5.05, 6.9, 5.4, 2.8, 3.9, 4.1,
          6.8, 4.25, 4.3, 5.35, 5.5, 7.4, 3.6, 6.2, 7.8, 6.75, 5.3, 5.95,
          5.55, 5.6, 5.9, 4.0, 6.0, 4.6, 4.75, 4.85, 2.3, 5.4, 5.0, 5.1,
          7.55, 4.25, 5.05, 5.8, 6.9, 6.2, 5.55, 2.2, 5.95, 7.45, 4.1, 2.3,
          4.05, 4.55, 4.0, 3.85, 2.75, 3.15, 3.1, 2.8, 5.3, 4.95, 4.4, 5.4,
          3.35, 3.45, 4.3, 2.3, 3.45, 2.9, 3.2, 4.2, 3.95, 3.4, 2.4, 2.7,
          2.15, 2.9, 3.3, 1.95, 2.65, 3.05, 3.25, 2.6, 2.85, 2.7, 2.35, 2.55]
VP_BLUE = [0.55, 0.6, 1.45, 0.95, 1.6, 1.3, 2.05, 1.2, 1.25, 1.75, 1.95, 1.35,
           0.85, 0.7, 1.1, 2.3, 1.35, 2.0, 1.75, 1.1, 1.5, 1.95, 2.5, 2.3,
           1.75, 2.6, 2.1, 1.35, 1.35, 2.95, 2.65, 2.1, 1.9, 1.85, 1.7, 3.35,
           2.1, 1.7, 1.75, 1.15, 0.6, 1.7, 1.05, 1.0, 1.2, 1.35, 1.25, 1.75,
           2.3, 2.35, 2.25, 1.95, 1.9, 2.35, 1.4, 2.1, 3.5, 2.55, 2.2, 6.25,
           6.5, 5.45, 2.7, 0.65, 2.6, 1.15, 2.1, 1.6, 1.6, 2.75, 2.5, 1.2,
           1.2, 2.35, 2.45, 2.2, 2.3, 2.0, 1.55, 2.55, 1.9, 1.65, 2.2, 2.7,
           1.25, 1.8, 2.6, 2.05, 1.95, 1.45, 1.55, 1.5, 2.1, 2.25, 1.8, 2.0]
VP_DOT = [1.0, 0.6, 1.4, 0.8, 1.2, 0.5, 1.6, 0.9, 1.1, 0.7, 1.5, 0.6, 1.3, 0.8, 1.0, 0.5, 1.4, 0.9, 1.2, 0.6,
          1.8, 0.7, 1.1, 0.5, 1.3, 0.8, 0.9, 0.6]
VP_DASH = [1.4, 1.9, 1.2, 2.1, 1.6, 1.8, 1.3, 2.2, 1.5, 1.9, 1.1, 2.0, 1.6, 2.3, 1.4, 1.8, 1.2, 2.1, 1.5, 1.9,
           1.3, 2.2, 1.6, 1.7, 1.4, 2.0, 1.5, 1.8]

# ---------------- vaP - J1 ----------------
VPJ_LINE = [9.5, 2.7, 6.5, 4.0, 3.9, 2.2, 3.5, 2.6, 3.3, 2.4, 3.6, 2.5, 3.2, 2.7, 3.5, 2.8, 3.1, 2.6, 3.4, 2.9, 3.6, 2.7, 3.3, 2.8,
            3.0, 3.6, 2.7, 3.3, 2.9, 3.5, 2.6, 3.2, 2.1, 3.0, 2.5, 3.4, 2.8, 3.2, 2.7, 3.3, 2.9, 3.1, 2.8, 3.3, 3.0, 3.2, 2.8, 3.1,
            3.0, 3.4, 3.1, 3.6, 3.0, 4.3, 3.2, 3.8, 2.9, 3.4, 2.5, 3.6, 2.9, 3.3, 2.7, 3.5, 2.4, 3.2, 2.1, 3.0, 2.6, 3.4, 2.8, 3.5,
            2.9, 3.5, 2.5, 3.2, 2.8, 3.6, 3.0, 3.8, 2.9, 4.2, 3.1, 3.7, 3.0, 4.0, 3.3, 4.5, 3.4, 4.1, 3.2, 3.9, 3.0, 3.6, 3.4, 4.4,
            3.6, 6.1, 3.8, 5.2, 3.5, 5.5, 4.0, 4.8, 3.6, 5.1, 3.9, 4.6, 3.2, 4.4, 3.5, 5.0, 3.4, 4.2, 3.6, 4.9, 3.3, 4.5, 3.1, 5.5,
            3.8, 5.0, 3.5, 6.0, 4.2, 6.8, 4.5, 7.0, 5.0, 7.6, 4.5, 6.3, 4.8, 6.5, 4.2, 5.8, 3.8, 6.2, 4.5, 5.5, 4.0, 6.6, 5.0, 7.0,
            7.35, 5.5, 4.5, 5.8, 2.9, 5.3, 3.8, 5.6, 4.2, 5.2, 3.8, 5.5, 4.4, 5.3, 4.0, 5.6, 3.6, 5.0, 4.2, 5.4, 3.8, 5.1, 4.3, 5.5,
            3.5, 5.2, 4.0, 5.0, 3.6, 4.8, 4.2, 4.6, 3.8, 4.5, 4.1, 4.7, 3.6, 4.4, 3.9, 4.6, 3.2, 4.2, 3.8, 4.7, 4.0, 4.5, 4.2, 5.0,
            4.5, 5.3, 4.8, 5.8, 5.0, 6.2, 5.2, 6.8, 5.5, 7.0, 5.8, 6.6, 6.0, 7.45, 5.5, 6.3, 5.8, 6.5, 5.6, 6.0, 5.7, 5.4]

PANELS = [
    dict(line=NB_LINE, red=NB_RED, blue=NB_BLUE, ymax=100, dtick=20),
    dict(line=CJ1_LINE, red=CJ1_RED, blue=CJ1_BLUE, ymax=50, dtick=10),
    dict(line=CCT_LINE, red=CCT_RED, blue=CCT_BLUE, ymax=50, dtick=10),
    dict(line=CTJ1_LINE, red=CTJ1_RED, blue=CTJ1_BLUE, ymax=30, dtick=5),
    dict(line=IMP_LINE, ymax=8, dtick=2),
    dict(line=CV_LINE, red=CV_RED, blue=CV_BLUE, dot=CV_DOT, dash=CV_DASH, ymax=8, dtick=2),
    dict(line=VV_LINE, red=VV_RED, blue=VV_BLUE, dot=VV_DOT, dash=VV_DASH, ymax=8, dtick=2),
    dict(line=AD_LINE, dot=AD_DOT, dash=AD_DASH, ymax=8, dtick=2),
    dict(line=DO_LINE, red=DO_RED, blue=DO_BLUE, dot=DO_DOT, dash=DO_DASH, ymax=8, dtick=2),
    dict(line=VR_LINE, red=VR_RED, blue=VR_BLUE, dot=VR_DOT, dash=VR_DASH, ymax=8, dtick=2),
    dict(line=VP_LINE, red=VP_RED, blue=VP_BLUE, dot=VP_DOT, dash=VP_DASH, ymax=8, dtick=2),
    dict(line=VPJ_LINE, ymax=8, dtick=2),
]


def line_dates(n):
    return pd.date_range("2015-01-01", periods=n, freq="SMS")


def month_dates(n):
    return pd.date_range("2015-01-01", periods=n, freq="MS")


def end_dates(n):
    return pd.date_range("2022-11-01", periods=n, freq="SMS")


W, H = 750, 600
LINE_W = 0.8
fig = go.Figure()

for k, p in enumerate(PANELS):
    r, c = divmod(k, 6)
    sfx = "" if k == 0 else str(k + 1)
    xa, ya = "x" + sfx, "y" + sfx
    fig.add_trace(go.Scatter(x=line_dates(len(p["line"])), y=p["line"], mode="lines",
                             line=dict(color="#111111", width=LINE_W), showlegend=False,
                             xaxis=xa, yaxis=ya, hoverinfo="skip"))
    for key, dash, name in (("dot", "dot", "réévaluation"), ("dash", "dash", "réirradiation")):
        if key in p:
            fig.add_trace(go.Scatter(x=end_dates(len(p[key])), y=p[key], mode="lines",
                                     line=dict(color="#111111", width=LINE_W, dash=dash), name=name,
                                     showlegend=False, xaxis=xa, yaxis=ya, hoverinfo="skip"))
    for key, col in (("red", "#ff0000"), ("blue", "#0000ff")):
        if key in p:
            fig.add_trace(go.Scatter(x=month_dates(len(p[key])), y=p[key], mode="markers",
                                     marker=dict(symbol="circle-open", size=4.5, color=col,
                                                 line=dict(width=1, color=col)),
                                     showlegend=False, xaxis=xa, yaxis=ya, hoverinfo="skip"))

    x0, x1 = (20 + 125 * c) / W, (115 + 125 * c) / W
    if r == 0:
        y0, y1 = 1 - 280 / H, 1 - 19 / H
        ty = 1 - 12 / H
    else:
        y0, y1 = 1 - 580 / H, 1 - 320 / H
        ty = 1 - 311 / H
    ymax = p["ymax"]
    pad = ymax * 0.04
    axis_common = dict(showline=True, mirror=True, linecolor="black", linewidth=1,
                       ticks="outside", ticklen=5, tickcolor="black", tickwidth=1,
                       showgrid=False, zeroline=False,
                       tickfont=dict(family=FONT, size=9, color="black"))
    fig.update_layout(**{
        "xaxis" + sfx: dict(domain=[x0, x1], anchor=ya, type="date",
                            range=["2014-08-24", "2024-02-17"],
                            tickmode="array", tickvals=X_TICKS, ticktext=X_TICKTEXT,
                            **axis_common),
        "yaxis" + sfx: dict(domain=[y0, y1], anchor=xa, range=[-pad, ymax + pad],
                            tickmode="linear", tick0=0, dtick=p["dtick"], tickangle=-90,
                            ticklabelstandoff=-2,
                            **axis_common),
    })
    fig.add_annotation(x=(x0 + x1) / 2, y=ty, xref="paper", yref="paper",
                       text="<b>" + TITLES[k] + "</b>", showarrow=False,
                       font=dict(family=FONT, size=10, color="black"),
                       xanchor="center", yanchor="middle")

# legend entries
fig.add_trace(go.Scatter(x=[None], y=[None], mode="lines", line=dict(color="#0000ff", width=1.5),
                         name="3D", legend="legend", showlegend=True))
fig.add_trace(go.Scatter(x=[None], y=[None], mode="lines", line=dict(color="#ff0000", width=1.5),
                         name="RA", legend="legend", showlegend=True))
fig.add_trace(go.Scatter(x=[None], y=[None], mode="lines", line=dict(color="black", width=1, dash="dot"),
                         name="réévaluation", legend="legend2", showlegend=True, xaxis="x6", yaxis="y6"))
fig.add_trace(go.Scatter(x=[None], y=[None], mode="lines", line=dict(color="black", width=1, dash="dash"),
                         name="réirradiation", legend="legend2", showlegend=True, xaxis="x6", yaxis="y6"))

fig.update_layout(
    width=W, height=H, margin=dict(l=0, r=0, t=0, b=0),
    paper_bgcolor="white", plot_bgcolor="white",
    showlegend=True,
    legend=dict(x=40 / W, y=1 - 240 / H, xanchor="left", yanchor="top",
                bgcolor="rgba(0,0,0,0)", font=dict(family=FONT, size=9, color="black"),
                itemwidth=30, tracegroupgap=0),
    legend2=dict(x=645 / W, y=1 - 17 / H, xanchor="left", yanchor="top",
                 bgcolor="rgba(0,0,0,0)", font=dict(family=FONT, size=8, color="black"),
                 itemwidth=30, tracegroupgap=0),
)

fig.write_html("out.html")
